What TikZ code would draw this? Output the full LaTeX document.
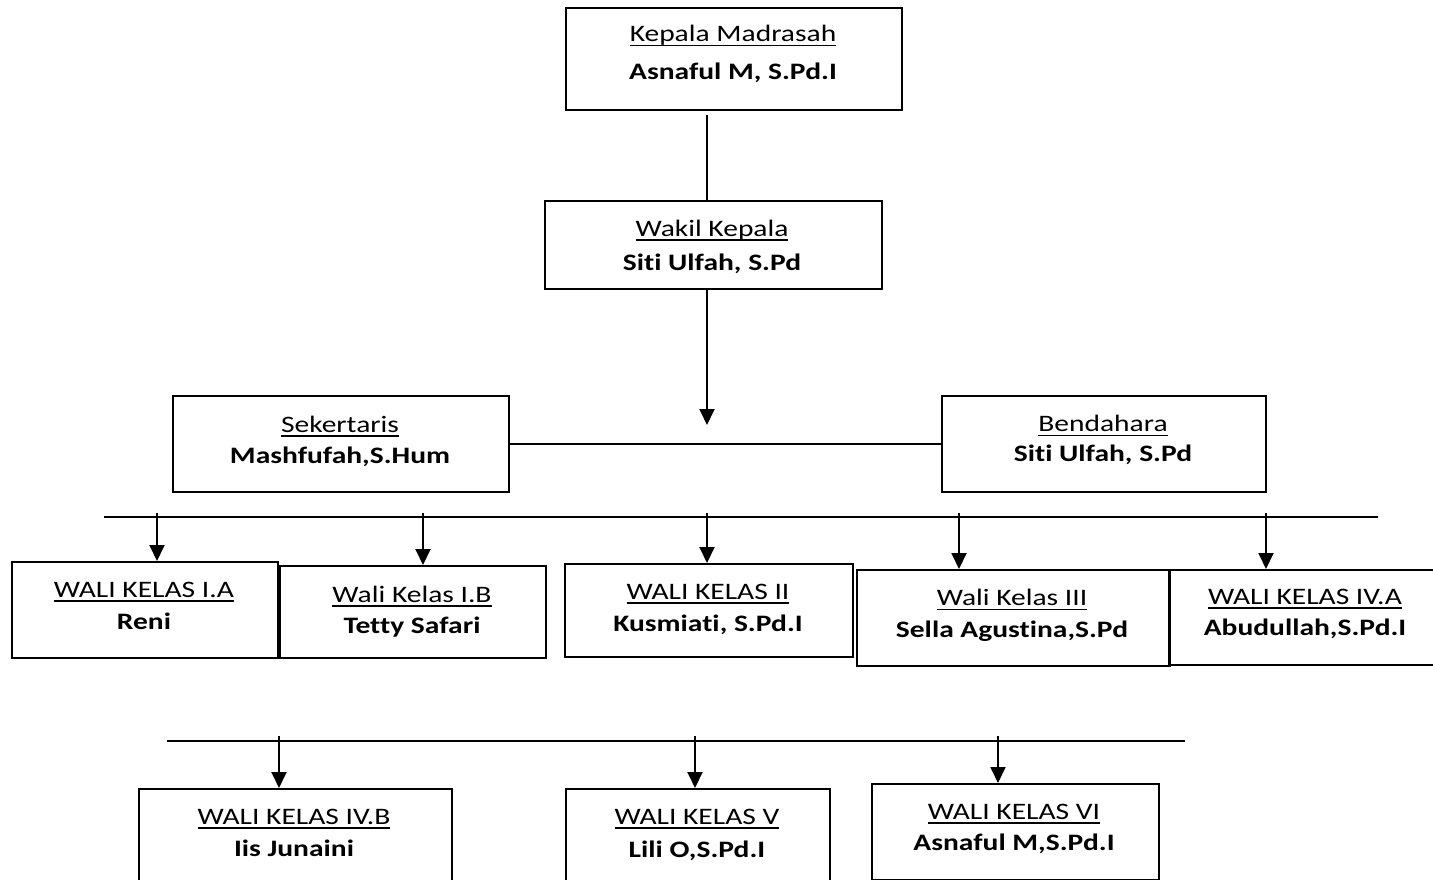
\documentclass[tikz,border=0pt]{standalone}
\usepackage{fontspec}
\setmainfont{Carlito}[FakeStretch=1.25, RawFeature={-liga}]
\usetikzlibrary{arrows.meta}
\newcommand\ulx[1]{\setbox0\hbox{#1}\leavevmode\rlap{\raisebox{-4.5pt}{\rule{\wd0}{1.5pt}}}\box0}
\begin{document}
\begin{tikzpicture}[x=1pt,y=-1pt,
  box/.style={draw, line width=1.8pt, inner sep=0pt, anchor=north west},
  ttl/.style={anchor=base, inner sep=0pt, font=\fontsize{23.6}{28}\selectfont},
  nm/.style={anchor=base, inner sep=0pt, font=\fontsize{23.6}{28}\selectfont\bfseries},
  ln/.style={line width=1.8pt},
  arr/.style={line width=1.9pt, -{Triangle[length=16pt,width=15pt]}}]
\useasboundingbox (0,0) rectangle (1433,880);
% boxes
\node[box, minimum width=336pt, minimum height=102pt] (kepala) at (565,7) {};
\node[ttl] (kepalaA) at (733,42) {\ulx{Kepala Madrasah}};
\node[nm] (kepalaB) at (733,80) {Asnaful M, S.Pd.I};
\node[box, minimum width=337pt, minimum height=88pt] (wakil) at (544,200) {};
\node[ttl] (wakilA) at (712,236) {\ulx{Wakil Kepala}};
\node[nm] (wakilB) at (712,270) {Siti Ulfah, S.Pd};
\node[box, minimum width=336pt, minimum height=96pt] (sek) at (172,395) {};
\node[ttl] (sekA) at (340,432) {\ulx{Sekertaris}};
\node[nm] (sekB) at (340,463) {Mashfufah,S.Hum};
\node[box, minimum width=324pt, minimum height=96pt] (bend) at (941,395) {};
\node[ttl] (bendA) at (1103,431.5) {\ulx{Bendahara}};
\node[nm] (bendB) at (1103,461.5) {Siti Ulfah, S.Pd};
\node[box, minimum width=266pt, minimum height=96pt] (ia) at (11,561) {};
\node[ttl] (iaA) at (144,597) {\ulx{WALI KELAS I.A}};
\node[nm] (iaB) at (144,629) {Reni};
\node[box, minimum width=266pt, minimum height=92pt] (ib) at (279,565) {};
\node[ttl] (ibA) at (412,602) {\ulx{Wali Kelas I.B}};
\node[nm] (ibB) at (412,633) {Tetty Safari};
\node[box, minimum width=288pt, minimum height=93pt] (ii) at (564,563) {};
\node[ttl] (iiA) at (708,599) {\ulx{WALI KELAS II}};
\node[nm] (iiB) at (708,631) {Kusmiati, S.Pd.I};
\node[box, minimum width=313pt, minimum height=96pt] (iii) at (856,569) {};
\node[ttl] (iiiA) at (1012,605.5) {\ulx{Wali Kelas III}};
\node[nm] (iiiB) at (1012,637) {Sella Agustina,S.Pd};
\node[box, minimum width=280pt, minimum height=95pt] (iva) at (1168,569) {};
\node[ttl] (ivaA) at (1305,604) {\ulx{WALI KELAS IV.A}};
\node[nm] (ivaB) at (1305,635) {Abudullah,S.Pd.I};
\node[box, minimum width=313pt, minimum height=110pt] (ivb) at (138,788) {};
\node[ttl] (ivbA) at (294,824) {\ulx{WALI KELAS IV.B}};
\node[nm] (ivbB) at (294,856) {Iis Junaini};
\node[box, minimum width=264pt, minimum height=110pt] (v) at (565,788) {};
\node[ttl] (vA) at (697,824) {\ulx{WALI KELAS V}};
\node[nm] (vB) at (697,857) {Lili O,S.Pd.I};
\node[box, minimum width=287pt, minimum height=96pt] (vi) at (871,783) {};
\node[ttl] (viA) at (1014,819) {\ulx{WALI KELAS VI}};
\node[nm] (viB) at (1014,850) {Asnaful M,S.Pd.I};
% connectors
\coordinate (k1) at (707,115);
\draw[ln] (k1) -- (k1 |- wakil.north);
\coordinate (w1) at (707,425);
\draw[arr] (w1 |- wakil.south) -- (w1);
\draw[ln] (sek.east) -- (bend.west);
\coordinate (b1L) at (104,517);
\coordinate (b1R) at (1378,517);
\draw[ln] (b1L) -- (b1R);
\foreach \x/\n in {157/ia,423/ib,707/ii,959/iii,1266/iva}
  \draw[arr] (\x,513) -- (\x,0 |- \n.north);
\coordinate (b2L) at (167,741);
\coordinate (b2R) at (1185,741);
\draw[ln] (b2L) -- (b2R);
\foreach \x/\n in {279/ivb,695/v,998/vi}
  \draw[arr] (\x,736) -- (\x,0 |- \n.north);
\end{tikzpicture}
\end{document}
